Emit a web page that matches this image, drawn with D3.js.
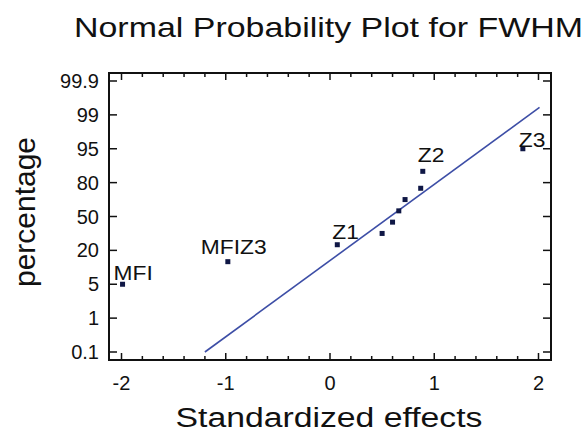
<!DOCTYPE html>
<html>
<head>
<meta charset="utf-8">
<script src="https://cdn.jsdelivr.net/npm/d3@7"></script>
<style>
  html, body { margin: 0; padding: 0; background: #fff; }
  svg { display: block; font-family: Arial, "Liberation Sans", sans-serif; }
</style>
</head>
<body>
<svg id="chart" width="588" height="433"></svg>
<script>
// Standardized effects, ordered by rank, and their plotting percentages
const effects     = [-1.99, -0.98, 0.07, 0.50, 0.60, 0.66, 0.72, 0.87, 0.89, 1.85];
const percentages = [5, 15, 25, 35, 45, 55, 65, 75, 85, 95];
const pointLabels = ["MFI", "MFIZ3", "Z1", "", "", "", "", "", "Z2", "Z3"];

// Axis ticks
const yTickValues = [0.1, 1, 5, 20, 50, 80, 95, 99, 99.9];
const xTickValues = [-2, -1, 0, 1, 2];
const xDomain = [-2.12, 2.12];

// Reference line through the effects
const fitEffects     = [-1.2, 2.01];
const fitPercentages = [0.1, 99.2];

const svg = d3.select("#chart");
const plot = { left: 109, right: 551, top: 73, bottom: 360 };
const yPad = 8;

const x = d3.scaleLinear().domain(xDomain).range([plot.left, plot.right]);
const yStep = (plot.bottom - plot.top - 2 * yPad) / (yTickValues.length - 1);
const y = d3.scaleLinear()
  .domain(yTickValues)
  .range(yTickValues.map((_, i) => plot.bottom - yPad - i * yStep));

// Widen glyphs horizontally by a factor k
function stretch(sel, k) {
  sel.each(function () {
    const w = this.getComputedTextLength();
    d3.select(this).attr("textLength", w * k).attr("lengthAdjust", "spacingAndGlyphs");
  });
}

// Title
svg.append("text")
  .attr("x", 328.5).attr("y", 37)
  .attr("text-anchor", "middle")
  .attr("font-size", 28).attr("fill", "#111")
  .text("Normal Probability Plot for FWHM")
  .call(s => s.attr("textLength", 509).attr("lengthAdjust", "spacingAndGlyphs"));

// Axis titles
svg.append("text")
  .attr("x", 329).attr("y", 427)
  .attr("text-anchor", "middle")
  .attr("font-size", 27).attr("fill", "#111")
  .text("Standardized effects")
  .attr("textLength", 307).attr("lengthAdjust", "spacingAndGlyphs");

svg.append("text")
  .attr("transform", "translate(35,212) rotate(-90)")
  .attr("text-anchor", "middle")
  .attr("font-size", 30).attr("fill", "#111")
  .text("percentage")
  .attr("textLength", 150).attr("lengthAdjust", "spacingAndGlyphs");

// Ticks (all pointing inward, mirrored on opposite sides)
const gFrame = svg.append("g").attr("stroke", "#111").attr("fill", "none");
const minorX = d3.range(-2, 2.0001, 0.2).map(v => +v.toFixed(1));
minorX.forEach(v => {
  const major = xTickValues.includes(v);
  const len = major ? 7 : 4;
  gFrame.append("line").attr("x1", x(v)).attr("x2", x(v))
    .attr("y1", plot.bottom).attr("y2", plot.bottom - len).attr("stroke-width", 1.5);
  gFrame.append("line").attr("x1", x(v)).attr("x2", x(v))
    .attr("y1", plot.top).attr("y2", plot.top + len).attr("stroke-width", 1.5);
});
yTickValues.forEach(v => {
  gFrame.append("line").attr("x1", plot.left).attr("x2", plot.left + 8)
    .attr("y1", y(v)).attr("y2", y(v)).attr("stroke-width", 1.5);
  gFrame.append("line").attr("x1", plot.right).attr("x2", plot.right - 8)
    .attr("y1", y(v)).attr("y2", y(v)).attr("stroke-width", 1.5);
});

// Frame
gFrame.append("rect")
  .attr("x", plot.left).attr("y", plot.top)
  .attr("width", plot.right - plot.left).attr("height", plot.bottom - plot.top)
  .attr("stroke-width", 2);

// Tick labels
svg.append("g").selectAll("text").data(xTickValues).join("text")
  .attr("x", d => x(d)).attr("y", 390)
  .attr("text-anchor", "middle").attr("font-size", 20).attr("fill", "#111")
  .text(d => d);

svg.append("g").selectAll("text").data(yTickValues).join("text")
  .attr("x", 99).attr("y", d => y(d)).attr("dy", "0.35em")
  .attr("text-anchor", "end").attr("font-size", 20).attr("fill", "#111")
  .text(d => d);

// Reference line
svg.append("line")
  .attr("x1", x(fitEffects[0])).attr("y1", y(fitPercentages[0]))
  .attr("x2", x(fitEffects[1])).attr("y2", y(fitPercentages[1]))
  .attr("stroke", "#3d4ea6").attr("stroke-width", 1.6);

// Points
const points = effects.map((e, i) => ({ e, p: percentages[i], label: pointLabels[i] }));
svg.append("g").selectAll("rect").data(points).join("rect")
  .attr("x", d => x(d.e) - 2.5).attr("y", d => y(d.p) - 2.5)
  .attr("width", 5).attr("height", 5)
  .attr("fill", "#0f1745");

// Point labels, placed just above-left of their markers
const labelOffset = { MFI: [-9, -4], MFIZ3: [-27, -8], Z1: [-5, -6], Z2: [-5, -9], Z3: [-4, -2] };
svg.append("g").selectAll("text").data(points.filter(d => d.label)).join("text")
  .attr("x", d => x(d.e) + labelOffset[d.label][0])
  .attr("y", d => y(d.p) + labelOffset[d.label][1])
  .attr("font-size", 20).attr("fill", "#111")
  .text(d => d.label)
  .call(stretch, 1.14);
</script>
</body>
</html>
